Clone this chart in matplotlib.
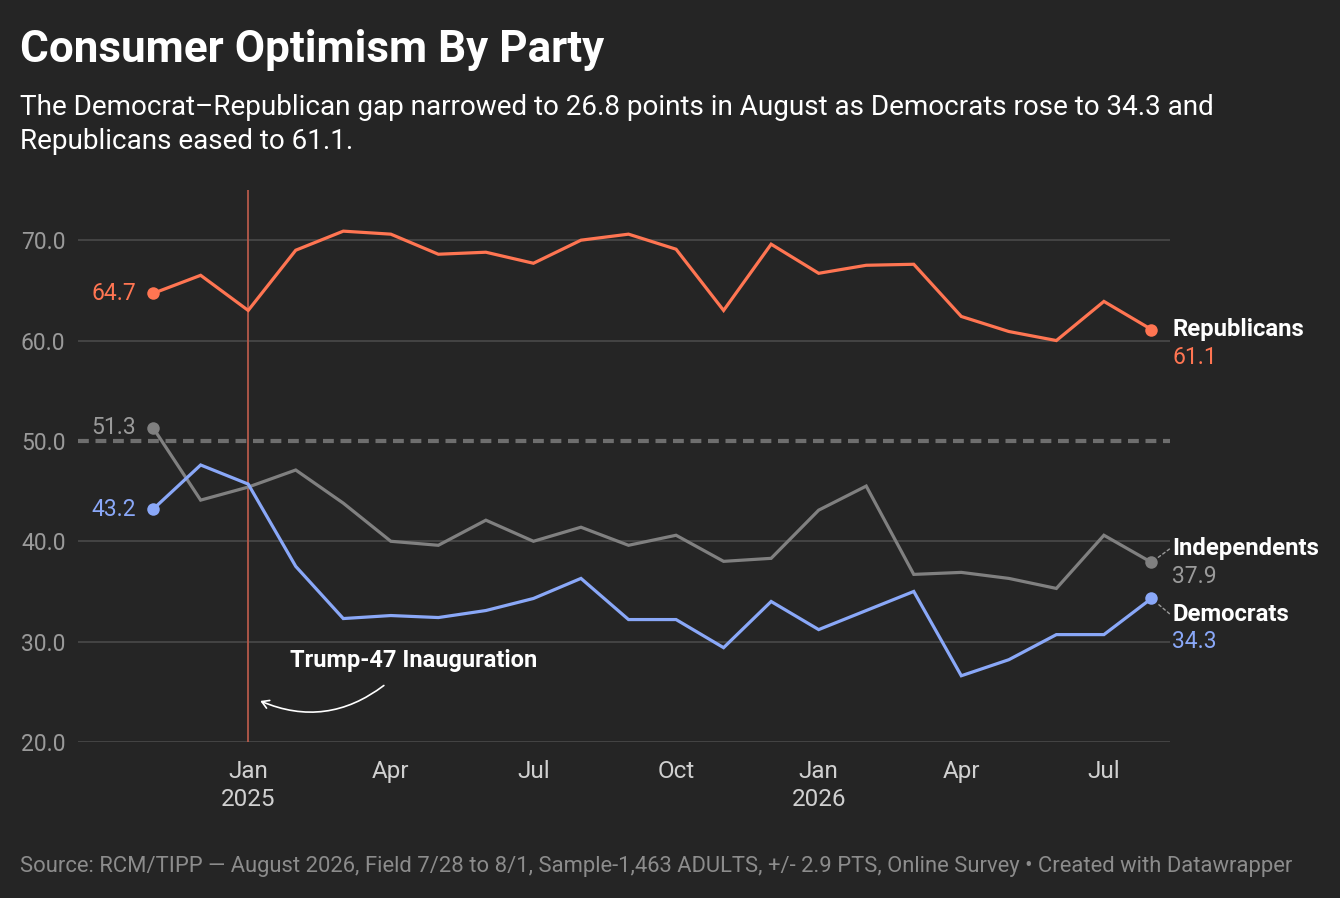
import matplotlib
matplotlib.use("Agg")
import matplotlib.pyplot as plt

# monthly survey readings, Nov 2024 .. Aug 2026
months = ["2024-11", "2024-12", "2025-01", "2025-02", "2025-03", "2025-04",
          "2025-05", "2025-06", "2025-07", "2025-08", "2025-09", "2025-10",
          "2025-11", "2025-12", "2026-01", "2026-02", "2026-03", "2026-04",
          "2026-05", "2026-06", "2026-07", "2026-08"]
republicans = [64.7, 66.5, 63.0, 69.0, 70.9, 70.6, 68.6, 68.8, 67.7, 70.0, 70.6,
               69.1, 63.0, 69.6, 66.7, 67.5, 67.6, 62.4, 60.9, 60.0, 63.9, 61.1]
independents = [51.3, 44.1, 45.4, 47.1, 43.8, 40.0, 39.6, 42.1, 40.0, 41.4, 39.6,
                40.6, 38.0, 38.3, 43.1, 45.5, 36.7, 36.9, 36.3, 35.3, 40.6, 37.9]
democrats = [43.2, 47.6, 45.7, 37.5, 32.3, 32.6, 32.4, 33.1, 34.3, 36.3, 32.2,
             32.2, 29.4, 34.0, 31.2, 33.1, 35.0, 26.6, 28.2, 30.7, 30.7, 34.3]
y_ticks = [20, 30, 40, 50, 60, 70]
month_names = {"01": "Jan", "04": "Apr", "07": "Jul", "10": "Oct"}
event_month = "2025-01"
event_label = "Trump-47 Inauguration"

BG = "#252525"
C_REP = "#ff7552"
C_IND = "#808080"
C_DEM = "#8aa8f8"
GRID = "#474747"

plt.rcParams["font.family"] = ["Roboto", "DejaVu Sans"]

W, H = 1340, 898
fig = plt.figure(figsize=(W / 100, H / 100), dpi=100, facecolor=BG)
ax = fig.add_axes([78 / W, 1 - 742 / H, (1170 - 78) / W, (742 - 190) / H])
ax.set_facecolor(BG)

x = list(range(len(months)))
ax.set_xlim(-1.58, 21.39)
ax.set_ylim(20, 75)

# grid
for v in y_ticks:
    if v == 50:
        ax.axhline(v, color="#6e6e6e", lw=3, ls=(0, (2.6, 1.6)), zorder=1)
    else:
        ax.axhline(v, color=GRID, lw=1.3, zorder=1)

ev = months.index(event_month)
ax.axvline(ev, color="#b65a4a", lw=1.3, zorder=2)

series = [(republicans, C_REP), (independents, C_IND), (democrats, C_DEM)]
for vals, c in series:
    ax.plot(x, vals, color=c, lw=2.3, zorder=3, solid_joinstyle="miter")
    ax.plot([x[0], x[-1]], [vals[0], vals[-1]], "o", color=c, ms=9, mec="none", zorder=4)

# start values
start_cols = [C_REP, "#9a9a9a", C_DEM]
for (vals, c), tc in zip(series, start_cols):
    ax.annotate(f"{vals[0]:.1f}", (x[0], vals[0]), xytext=(-17, 0),
                textcoords="offset pixels", ha="right", va="center",
                fontsize=16.5, color=tc)

# end labels
end_info = [("Republicans", republicans, C_REP, 0, -28),
            ("Independents", independents, "#9a9a9a", 14, -14),
            ("Democrats", democrats, C_DEM, -16, -43)]
for name, vals, tc, dy_name, dy_val in end_info:
    ax.annotate(name, (x[-1], vals[-1]), xytext=(21, dy_name),
                textcoords="offset pixels", ha="left", va="center",
                fontsize=17.2, fontweight="bold", color="white", annotation_clip=False)
    ax.annotate(f"{vals[-1]:.1f}", (x[-1], vals[-1]), xytext=(21, dy_val),
                textcoords="offset pixels", ha="left", va="center",
                fontsize=16.5, color=tc, annotation_clip=False)
    if dy_name != 0:
        ax.annotate("", (x[-1], vals[-1]), xytext=(18, dy_name * 0.95),
                    textcoords="offset pixels", annotation_clip=False,
                    arrowprops=dict(arrowstyle="-", color="#9a9a9a", lw=1,
                                    ls=(0, (2, 2)), shrinkA=0, shrinkB=6))

# event annotation
ax.annotate("", xy=(ev + 0.2, 24.2), xytext=(ev + 2.9, 25.8),
            arrowprops=dict(arrowstyle="->,head_length=0.5,head_width=0.3",
                            color="white", lw=1.2,
                            connectionstyle="arc3,rad=-0.3"), zorder=5)
ax.text(ev + 0.88, 28.1, event_label, ha="left", va="center",
        fontsize=17, fontweight="bold", color="white", zorder=5)

# axes styling
for s in ax.spines.values():
    s.set_visible(False)
ax.set_yticks(y_ticks)
ax.set_yticklabels([f"{v:.1f}" for v in y_ticks])
xt, xl = [], []
for i, m in enumerate(months):
    yr, mo = m.split("-")
    if mo in month_names:
        xt.append(i)
        xl.append(month_names[mo] + ("\n" + yr if mo == "01" else ""))
ax.set_xticks(xt)
ax.set_xticklabels(xl, linespacing=1.3)
ax.tick_params(axis="y", length=0, pad=9, labelsize=16.5, labelcolor="#9a9a9a")
ax.tick_params(axis="x", length=0, pad=13, labelsize=17.5, labelcolor="#d0d0d0")

# titles and footer
fig.text(20 / W, 1 - 62 / H, "Consumer Optimism By Party", ha="left", va="baseline",
         fontsize=31.7, fontweight="bold", color="white")
fig.text(20 / W, 1 - 115 / H,
         "The Democrat\u2013Republican gap narrowed to 26.8 points in August as Democrats rose to 34.3 and",
         ha="left", va="baseline", fontsize=20.1, color="white")
fig.text(20 / W, 1 - 149 / H, "Republicans eased to 61.1.",
         ha="left", va="baseline", fontsize=20.1, color="white")
fig.text(20 / W, 1 - 872 / H,
         "Source: RCM/TIPP \u2014 August 2026, Field 7/28 to 8/1, Sample-1,463 ADULTS, +/- 2.9 PTS, "
         "Online Survey \u2022 Created with Datawrapper",
         ha="left", va="baseline", fontsize=15.8, color="#8c8c8c")

fig.savefig("out.png", dpi=100, facecolor=BG)
